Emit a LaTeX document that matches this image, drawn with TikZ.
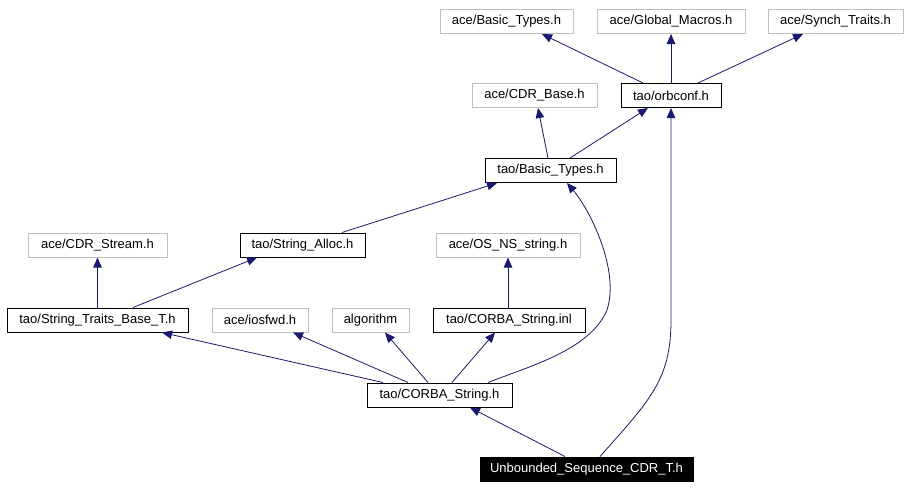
\documentclass[tikz,border=0pt]{standalone}
\usepackage{fontspec}
\setmainfont{Liberation Sans}
\usetikzlibrary{arrows.meta}
\definecolor{edgeblue}{HTML}{191970}
\definecolor{boxgray}{HTML}{BFBFBF}
\tikzset{
  filebox/.style={draw=black, line width=1pt, inner sep=0pt, minimum height=24pt, font=\fontsize{13pt}{15pt}\selectfont, text=black},
  extbox/.style={filebox, draw=boxgray},
  mainbox/.style={filebox, fill=black, text=white},
  dep/.style={draw=edgeblue, line width=0.8pt, -{Triangle[length=10pt,width=8.5pt]}, edgeblue},
}
\begin{document}
\begin{tikzpicture}[x=1pt,y=-1pt]
\useasboundingbox (0,0) rectangle (908,488);
% row 1
\node[extbox, minimum width=133pt] (abt) at (506.5,21.5) {ace/Basic\_Types.h};
\node[extbox, minimum width=148pt] (agm) at (671,21.5) {ace/Global\_Macros.h};
\node[extbox, minimum width=135pt] (ast) at (835.5,21.5) {ace/Synch\_Traits.h};
% row 2
\node[extbox, minimum width=125pt] (acb) at (534.5,95.5) {ace/CDR\_Base.h};
\node[filebox, minimum width=100pt] (orb) at (671,95.5) {tao/orbconf.h};
% row 3
\node[filebox, minimum width=131pt] (tbt) at (550.5,170.5) {tao/Basic\_Types.h};
% row 4
\node[extbox, minimum width=139pt] (acs) at (97.5,245) {ace/CDR\_Stream.h};
\node[filebox, minimum width=125pt] (tsa) at (302.5,245) {tao/String\_Alloc.h};
\node[extbox, minimum width=144pt] (aos) at (508,245) {ace/OS\_NS\_string.h};
% row 5
\node[filebox, minimum width=181pt] (tst) at (97.5,320) {tao/String\_Traits\_Base\_T.h};
\node[extbox, minimum width=96pt] (aio) at (260,320) {ace/iosfwd.h};
\node[extbox, minimum width=77pt] (alg) at (370.5,320) {algorithm};
\node[filebox, minimum width=152pt] (inl) at (509,320) {tao/CORBA\_String.inl};
% row 6
\node[filebox, minimum width=145pt] (cs) at (439.5,395) {tao/CORBA\_String.h};
% row 7
\node[mainbox, minimum width=213pt] (unb) at (586.5,469) {Unbounded\_Sequence\_CDR\_T.h};
% edges
\draw[dep] ([xshift=-28pt]orb.north) -- ([xshift=35.5pt]abt.south);
\draw[dep] (orb.north) -- (agm.south);
\draw[dep] ([xshift=27pt]orb.north) -- ([xshift=-32.5pt]ast.south);
\draw[dep] ([xshift=-2.5pt]tbt.north) -- ([xshift=3.5pt]acb.south);
\draw[dep] ([xshift=19.5pt]tbt.north) -- ([xshift=-23pt]orb.south);
\draw[dep] ([xshift=39.5pt]tsa.north) -- ([xshift=-53.5pt]tbt.south);
\draw[dep] (tst.north) -- (acs.south);
\draw[dep] ([xshift=35.5pt]tst.north) -- ([xshift=-45.5pt]tsa.south);
\draw[dep] ([xshift=-1pt]inl.north) -- (aos.south);
\draw[dep] ([xshift=-56.5pt]cs.north) -- ([xshift=64.5pt]tst.south);
\draw[dep] ([xshift=-31.5pt]cs.north) -- ([xshift=33pt]aio.south);
\draw[dep] ([xshift=-11.5pt]cs.north) -- ([xshift=14.5pt]alg.south);
\draw[dep] ([xshift=12.5pt]cs.north) -- ([xshift=-14pt]inl.south);
\draw[dep] ([xshift=48.5pt]cs.north) .. controls (530,366) and (590,350) .. (607,310)
   .. controls (620,270) and (590,210) .. ([xshift=16.5pt]tbt.south);
\draw[dep] ([xshift=-21.5pt]unb.north) -- ([xshift=30.5pt]cs.south);
\draw[dep] ([xshift=13.5pt]unb.north) .. controls (650,400) and (671,380) .. (671,320) -- (orb.south);
\end{tikzpicture}
\end{document}
